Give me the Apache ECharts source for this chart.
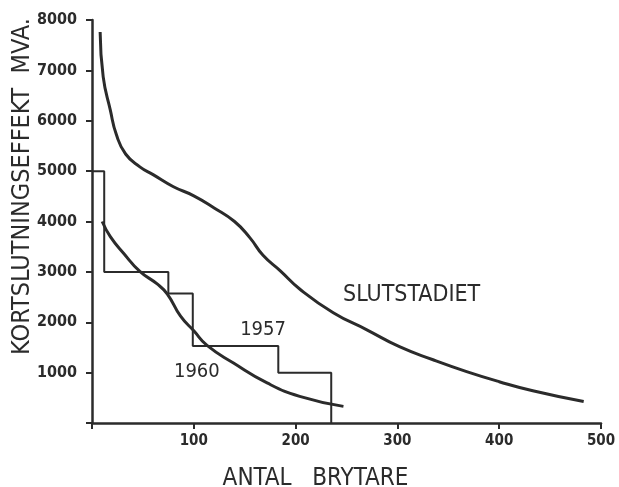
<!DOCTYPE html>
<html>
<head>
<meta charset="utf-8">
<script src="https://cdn.jsdelivr.net/npm/echarts@6/dist/echarts.min.js"></script>
<style>
html,body{margin:0;padding:0;background:#fff;}
#chart{width:619px;height:487px;}
</style>
</head>
<body>
<div id="chart"></div>
<script>
// ---- data ----
var xTicks = [0, 100, 200, 300, 400, 500];
var yTicks = [0, 1000, 2000, 3000, 4000, 5000, 6000, 7000, 8000];

// SLUTSTADIET curve: [antal brytare, MVA]
var slutX = [8, 11, 18, 24, 33, 47, 60, 80, 100, 120, 140, 155, 168, 185, 204, 237, 270, 302, 335, 368, 400, 433, 483];
var slutY = [7760, 6870, 6210, 5720, 5340, 5085, 4930, 4690, 4510, 4270, 4000, 3680, 3330, 3020, 2660, 2190, 1850, 1515, 1255, 1020, 820, 640, 425];

// 1960 curve
var y1960X = [10, 18, 31, 47, 64, 74, 87, 100, 113, 139, 172, 204, 247];
var y1960Y = [4000, 3700, 3370, 3010, 2760, 2560, 2120, 1830, 1540, 1190, 795, 528, 330];

// 1957 step line
var y1957X = [0, 12, 12, 75, 75, 99, 99, 183, 183, 235, 235];
var y1957Y = [5000, 5000, 3000, 3000, 2570, 2570, 1530, 1530, 1000, 1000, 0];

var labelTexts = ['SLUTSTADIET', '1957', '1960'];

function zip(a, b) { return a.map(function (v, i) { return [v, b[i]]; }); }

var INK = '#2b2b2b';
var FONT = '"DejaVu Sans Condensed", "Liberation Sans Narrow", "DejaVu Sans", sans-serif';

function tag(text, coord, size) {
  return {
    coord: coord, symbol: 'circle', symbolSize: 0,
    label: { show: true, position: 'inside', formatter: text, color: INK,
             fontFamily: FONT, fontSize: size, fontWeight: 'normal' }
  };
}

var chart = echarts.init(document.getElementById('chart'), null, { renderer: 'canvas' });
chart.setOption({
  animation: false,
  backgroundColor: '#ffffff',
  grid: { left: 92, right: 18, top: 20, bottom: 64, containLabel: false, outerBoundsMode: 'none' },
  xAxis: {
    type: 'value', min: xTicks[0], max: xTicks[xTicks.length - 1], interval: 100,
    name: 'ANTAL   BRYTARE', nameLocation: 'middle', nameGap: 44, nameMoveOverlap: false,
    nameTextStyle: { color: INK, fontFamily: FONT, fontSize: 24, padding: [0, 62, 0, 0] },
    axisLine: { lineStyle: { color: INK, width: 2.5 } },
    axisTick: { show: true, length: 6, lineStyle: { color: INK, width: 2 } },
    axisLabel: { color: INK, fontFamily: FONT, fontSize: 15, fontWeight: 'bold', margin: 11,
                 formatter: function (v) { return v === 0 ? '' : String(v); } },
    splitLine: { show: false }
  },
  yAxis: {
    type: 'value', min: yTicks[0], max: yTicks[yTicks.length - 1], interval: 1000,
    name: 'KORTSLUTNINGSEFFEKT  MVA.', nameLocation: 'middle', nameGap: 57, nameRotate: 90,
    nameMoveOverlap: false,
    nameTextStyle: { color: INK, fontFamily: FONT, fontSize: 25, padding: [0, 0, 0, 70] },
    axisLine: { show: true, lineStyle: { color: INK, width: 2.5 } },
    axisTick: { show: true, length: 6, lineStyle: { color: INK, width: 2 } },
    axisLabel: { color: INK, fontFamily: FONT, fontSize: 16, fontWeight: 'bold', margin: 15,
                 formatter: function (v) { return v === 0 ? '' : String(v); } },
    splitLine: { show: false }
  },
  series: [
    {
      name: labelTexts[0], type: 'line', data: zip(slutX, slutY), smooth: 0.5,
      showSymbol: false, lineStyle: { color: INK, width: 3 }, z: 3,
      markPoint: { silent: true, data: [tag(labelTexts[0], [314, 2545], 23)] }
    },
    {
      name: labelTexts[1], type: 'line', data: zip(y1957X, y1957Y), smooth: false,
      showSymbol: false, lineStyle: { color: INK, width: 2 }, z: 2,
      markPoint: { silent: true, data: [tag(labelTexts[1], [168, 1850], 20)] }
    },
    {
      name: labelTexts[2], type: 'line', data: zip(y1960X, y1960Y), smooth: 0.5,
      showSymbol: false, lineStyle: { color: INK, width: 3 }, z: 3,
      markPoint: { silent: true, data: [tag(labelTexts[2], [103, 1008], 20)] }
    }
  ]
});
</script>
</body>
</html>
